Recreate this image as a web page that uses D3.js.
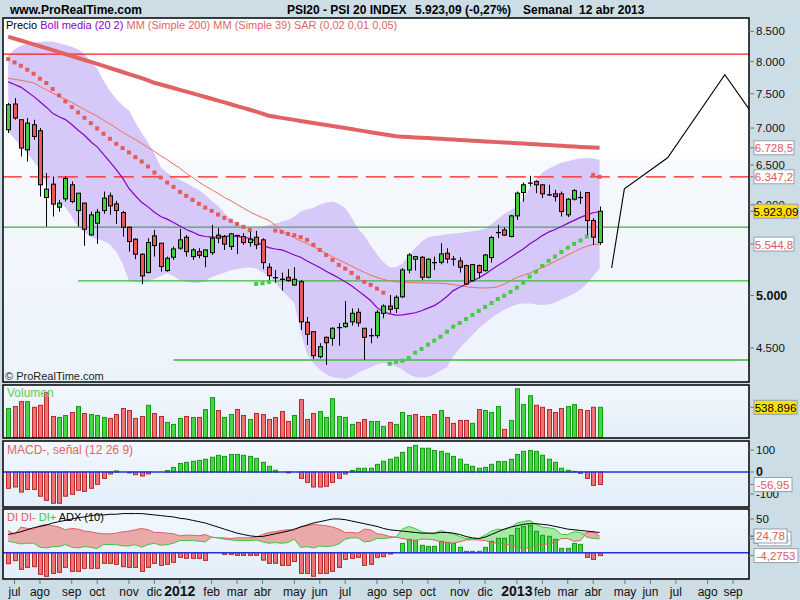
<!DOCTYPE html>
<html><head><meta charset="utf-8">
<script src="https://cdn.jsdelivr.net/npm/d3@7/dist/d3.min.js"></script>
<style>
html,body{margin:0;padding:0;background:#cddde6;}
svg{display:block;font-family:"Liberation Sans",Arial,Helvetica,sans-serif;}
</style></head><body>
<svg id="chart" width="800" height="600"></svg>
<script>
// ================= DATA (weekly bars, PSI20, 27 jun 2011 .. 8 abr 2013) =================
const firstWeek = "2011-06-27";
const monthNames = ["ene","feb","mar","abr","may","jun","jul","ago","sep","oct","nov","dic"];
const priceTicks = [8500, 8000, 7500, 7000, 6500, 6000, 5000, 4500];
const macdTicks = [100, 0, -100];
const diTicks = [50];

const opens = [6976,7346,7118,6701,7047,6962,6088,6254,5971,6072,
 6246,5931,6020,5648,5782,5931,6109,6011,5907,5736,
 5600,5433,5236,5637,5555,5257,5400,5499,5622,5407,
 5461,5407,5450,5645,5629,5517,5641,5629,5562,5622,
 5592,5293,5183,5166,5187,5107,5141,4739,4650,4422,
 4598,4589,4688,4697,4743,4835,4682,4613,4613,4825,
 4896,4873,4987,5264,5379,5400,5187,5342,5346,5444,
 5379,5360,5310,5152,5310,5257,5396,5674,5705,5629,
 5868,6150,6267,6288,6246,6121,6134,6134,5880,6068,
 6088,6150,5813,5562];
const highs = [7361,7435,7118,7142,7118,7000,6394,6351,6060,6351,
 6288,6142,6027,5919,5951,6162,6150,6048,5927,5743,
 5611,5444,5611,5705,5555,5407,5517,5717,5648,5499,
 5499,5488,5763,5724,5648,5668,5648,5668,5686,5694,
 5611,5335,5264,5236,5272,5293,5159,4790,4650,4543,
 4604,4692,4730,4946,4873,4873,4682,4682,4857,4913,
 5006,5003,5282,5444,5414,5414,5389,5407,5555,5499,
 5414,5400,5321,5321,5321,5436,5637,5763,5732,5880,
 6162,6275,6360,6301,6254,6246,6183,6162,6081,6192,
 6162,6158,5841,5979];
const lows = [6930,7118,6611,6545,6837,6100,5743,5860,5919,6039,
 6020,5743,5525,5637,5547,5892,5880,5774,5629,5461,
 5379,5115,5229,5407,5246,5246,5371,5480,5407,5371,
 5389,5293,5425,5555,5480,5480,5436,5536,5517,5488,
 5272,5159,5131,5050,5141,5097,4666,4527,4402,4408,
 4349,4521,4521,4688,4707,4697,4393,4543,4589,4777,
 4825,4828,4977,5229,5257,5159,5176,5264,5324,5335,
 5310,5236,5107,5141,5176,5246,5342,5611,5637,5622,
 5821,6039,6225,6142,6081,6109,6039,5860,5853,6051,
 6011,5648,5536,5536];
const closes = [7336,7142,6724,7070,6883,6246,6192,6008,6020,6326,
 6039,6142,5713,5880,5912,6081,5987,5931,5736,5573,
 5433,5201,5562,5528,5300,5389,5491,5592,5461,5480,
 5421,5480,5611,5611,5544,5660,5641,5562,5600,5536,
 5342,5204,5183,5166,5152,5166,4743,4626,4431,4512,
 4548,4682,4688,4730,4825,4733,4598,4613,4835,4896,
 4864,4983,5264,5425,5407,5187,5379,5342,5436,5382,
 5379,5293,5118,5321,5236,5425,5618,5674,5645,5868,
 6142,6246,6267,6246,6134,6121,6100,5919,6068,6174,
 6088,5813,5622,5923.09];

// volume in thousands, and up(1)/down(0) colouring
const volume = [517,551,638,638,539,574,795,378,360,395,
 447,551,430,412,395,360,343,412,517,482,
 343,378,574,430,378,273,238,343,378,360,
 360,499,708,482,360,412,499,395,325,430,
 412,325,360,464,290,395,673,325,430,464,
 360,690,378,360,238,273,325,290,290,204,
 273,238,447,395,412,378,378,412,482,360,
 256,308,308,256,499,482,447,551,151,308,
 864,586,742,574,539,499,447,517,551,586,
 499,482,539,538.896];
const volUp = [1,0,0,1,0,0,0,0,1,1,
 0,1,0,1,1,1,0,0,0,0,
 0,0,1,0,0,1,1,1,0,1,
 0,1,1,0,1,1,0,0,1,0,
 0,0,0,0,0,1,0,0,0,1,
 1,1,1,1,1,0,0,1,1,1,
 0,1,1,1,0,0,1,0,1,0,
 0,0,0,1,0,1,1,1,0,1,
 1,1,1,0,0,0,0,0,1,1,
 0,0,0,1];

const ma200 = [8410,8378,8346,8314,8282,8250,8218,8186,8154,8122,8090,8058,8026,7994,7962,7930,7898,7866,7834,7802,7770,7738,7705,7667,
 7640,7613,7586,7559,7532,7505,7478,7451,7424,7397,7370,7343,7316,7289,7262,7235,7205,7175,
 7160,7145,7130,7116,7101,7087,7072,7058,7043,7029,7014,7000,6986,6971,6957,6942,6928,6914,6900,6885,
 6880,6875,6870,6865,6860,6855,6850,6845,6840,6835,6830,6825,6820,6815,6810,6805,6800,6795,6790,6785,6780,6775,6770,6765,6760,6755,6750,6745,6740,6736,6732,6728.5];
const ma39 = [7735,7720,7705,7685,7665,7610,7560,7510,7460,7420,7370,7320,7265,7215,7170,
 7110,7060,7000,6940,6890,6840,6790,6730,6680,6620,6570,6510,6460,6390,6340,6280,6230,
 6185,6140,6090,6050,6005,5960,5915,5880,5845,5815,5760,5695,5650,5615,5580,5550,5515,5480,5440,5405,
 5370,5340,5305,5270,5240,5210,5185,5165,5150,5140,5135,5132,5130,5128,5127,5126,5125,5120,5110,5100,
 5090,5082,5078,5077,5080,5090,5115,5150,5185,5210,5230,5260,5290,5320,5355,5390,5425,5460,5495,5520,5540,5544.8];
const bollMid = [7680,7640,7600,7530,7460,7380,7300,7210,7160,7120,7050,6970,6900,6810,6740,6640,6540,6440,6330,6200,6110,6030,5975,
 5910,5860,5830,5790,5750,5710,5680,5645,5630,5622,5625,5632,5637,5630,5620,5610,5575,5530,5505,5490,5480,5455,5425,
 5400,5360,5325,5290,5250,5215,5180,5140,5100,5050,5000,4950,4880,4840,4820,4808,4810,4820,4830,4850,4875,4900,4940,4990,
 5050,5085,5115,5150,5180,5220,5265,5310,5355,5400,5445,5490,5545,5590,5640,5680,5710,5745,5780,5815,5850,5880,5905,5920];
const bollUp = [8100,8200,8260,8290,8310,8320,8330,8330,8300,8270,8240,8200,8120,8000,7880,7700,7540,7420,7330,7250,7080,6930,6800,
 6650,6470,6400,6345,6310,6270,6220,6180,6120,6050,5990,5900,5830,5770,5745,5728,5730,5745,5760,5780,5800,5820,5860,
 5919,5945,5965,6000,6027,6039,6010,5960,5850,5720,5640,5530,5430,5350,5290,5295,5330,5420,5500,5570,5620,5635,5645,5655,
 5664,5670,5680,5690,5700,5720,5770,5830,5890,5935,5975,6080,6200,6310,6400,6455,6490,6530,6550,6570,6585,6590,6585,6567];
const bollLow = [6950,6850,6750,6650,6550,6440,6270,6090,6020,5970,5860,5740,5680,5620,5600,5580,5540,5460,5330,5150,5140,5130,5150,
 5170,5200,5230,5200,5160,5140,5130,5125,5150,5190,5210,5235,5260,5275,5285,5293,5280,5240,5200,5130,5057,4990,4925,
 4650,4450,4365,4310,4270,4245,4235,4231,4245,4280,4305,4330,4355,4366,4355,4335,4310,4270,4245,4240,4245,4270,4300,4330,
 4423,4500,4560,4620,4680,4730,4780,4820,4860,4890,4910,4920,4920,4910,4905,4910,4930,4960,4990,5020,5060,5120,5200,5280];
const sar = [8041,7987,7934,7870,7807,7729,7663,7571,7474,7385,7302,7223,7146,7070,6994,6920,6851,6782,6724,6665,6603,6545,6480,
 6402,6337,6274,6220,6158,6109,6060,6012,5967,5927,5883,5845,5810,5774,5740,5705,5118,5125,5139,5697,5682,5659,5645,
 5622,5592,5536,5480,5425,5371,5317,5278,5233,5183,5139,5108,5070,5029,4360,4377,4386,4410,4458,4491,4530,4567,4603,4650,
 4697,4732,4770,4809,4848,4887,4926,4966,4999,5037,5080,5131,5194,5246,5307,5361,5407,5458,5505,5547,5584,5629,6372,6347.2];

const macdHist = [-74,-68,-91,-79,-79,-110,-129,-142,-142,-110,-101,-83,-88,-74,-56,-29,-9,5,
 0,-4,-12,-18,-9,0,0,7,21,39,44,49,53,58,67,76,71,80,80,76,71,62,44,26,8,0,
 -4,0,-29,-47,-68,-68,-65,-47,-29,-9,7,17,17,17,35,49,58,67,
 89,112,121,108,108,98,94,85,71,58,35,26,17,21,35,48,48,58,80,94,98,94,76,58,44,17,8,3,-6,-29,-61,-56.95];

const adx = [27,29,31,34,37,39,41,44,46,48,50,52,53,55,56,56,57,57,58,58,58,58,57,56,55,54,53,51,50,48,46,44,41,38,35,32,29,27,25,24,
 24,26,28,30,32,35,38,41,44,46,48,50,50,49,47,45,43,41,39,36,34,33,32,31,30,29,29,29,30,30,29,27,24,22,21,23,27,31,35,38,
 40,42,43,43,42,41,39,37,35,34,33,32,31,30];
const diMinus = [33,27,38,36,35,40,42,40,38,34,36,35,32,31,29,28,28,29,31,32,34,36,34,
 30,30,29,28,25,26,26,25,27,23,22,22,21,22,22,22,23,27,30,31,33,34,33,
 39,40,42,41,40,38,35,30,30,29,35,34,28,27,24,23,21,19,18,20,20,19,16,15,
 14,16,19,19,19,18,15,14,13,11,8,7,7,10,12,13,15,21,21,17,18,30,31,24.78];
const diPlus = [17,15,13,14,14,8,7,9,9,12,8,7,9,8,6,12,12,12,10,10,12,8,12,
 14,11,12,14,18,18,18,17,16,23,22,20,19,18,18,18,19,16,14,15,14,15,20,
 8,9,7,10,9,10,13,20,22,22,16,17,21,21,22,23,35,39,36,31,29,28,33,30,
 28,24,21,21,21,26,32,35,34,37,44,46,48,42,38,37,35,27,27,31,30,23,21,20.54];
const diHist = [-16.3,-11.9,-24.7,-21.8,-20.8,-32.1,-35.1,-30.7,-29.2,-21.8,-27.7,-27.7,-23.2,-23.2,-23.2,-15.8,-15.8,-17.3,-20.8,-21.8,
 -21.8,-27.7,-21.8,-15.8,-18.8,-17.3,-14.3,-6.9,-8.4,-8.4,-8.4,-11.4,0,0,-2.5,-2.5,-4,-4,-4,-4,
 -11,-15.8,-15.8,-18.8,-18.8,-13,-30.7,-30.7,-35,-30.7,-30.7,-27.7,-21.8,-9.9,-8.4,-6.9,-18.8,-17.3,-6.9,-5.9,
 -2,0,13.8,19.8,18.3,10.9,9.4,9.4,16.8,15.3,13.8,7.9,2,2,2,7.9,16.8,21.3,21.3,25.7,
 36.1,39,40.6,31.7,25.7,24.3,19.8,6.4,6.4,13.8,12.4,-6.9,-9.9,-4.2753];

// user drawn lines
const hLines = [
  {value: 8120, from: -1, color: "#ff1a1a", dash: null},
  {value: 6347, from: -1, color: "#ff1a1a", dash: "20,8"},
  {value: 5736, from: -1, color: "#4aa84a", dash: null},
  {value: 5149, from: 11, color: "#3cb83c", dash: null},
  {value: 4393, from: 26, color: "#3cb83c", dash: null}
];
const projWeek = [94.9, 96.9, 103.7, 112.7, 116.6];
const projValue = [5285, 6196, 6594, 7792, 7260];

// ================= RENDER =================
const svg = d3.select("#chart");
const defs = svg.append("defs");
function grad(id, stops){
  const g = defs.append("linearGradient").attr("id", id).attr("x1",0).attr("y1",0).attr("x2",0).attr("y2",1);
  stops.forEach(s => g.append("stop").attr("offset", s[0]).attr("stop-color", s[1]));
}
grad("gMain", [["0%","#ffffff"],["38%","#ffffff"],["40%","#f6f9fd"],["100%","#ecf3fb"]]);
grad("gSub", [["0%","#f2f8fd"],["100%","#e3eef9"]]);

const L = 3, R = 749;
const P = {main:[18,382], vol:[385,438], macd:[441,507], di:[509,579]};
const n = closes.length;
const x = d3.scaleLinear().domain([-0.81, 116.5]).range([L, R]);
const weeks = d3.timeMonday.range(new Date(2011,5,27), new Date(2013,9,1));

const yP = d3.scaleLog().domain([4203, 8732]).range([P.main[1], P.main[0]]);
const yV = d3.scaleLinear().domain([0, 930]).range([P.vol[1], P.vol[0]]);
const yM = d3.scaleLinear().domain([-159, 141]).range([P.macd[1], P.macd[0]]);
const yD = d3.scaleLinear().domain([-39, 64.8]).range([P.di[1], P.di[0]]);

const fmt = (v, d) => d3.format(",." + d + "f")(v).replace(/\u2212/g,"-")
  .replace(/,/g,"#").replace(/\./g,",").replace(/#/g,".");

svg.append("rect").attr("width",800).attr("height",600).attr("fill","#cddde6");

// panel backgrounds + clips
Object.entries(P).forEach(([k,[t,b]]) => {
  svg.append("rect").attr("x",L).attr("y",t).attr("width",R-L).attr("height",b-t)
    .attr("fill", k==="main" ? "url(#gMain)" : "url(#gSub)");
  defs.append("clipPath").attr("id","clip-"+k).append("rect")
    .attr("x",L).attr("y",t).attr("width",R-L).attr("height",b-t);
});

const GREEN_F = "#45d645", GREEN_S = "#169a16", RED_F = "#f07272", RED_S = "#b42a2a";

// ---------- main panel ----------
const gm = svg.append("g").attr("clip-path","url(#clip-main)");
const idx = d3.range(n);
gm.append("path").datum(idx)
  .attr("d", d3.area().x(i=>x(i)).y0(i=>yP(bollLow[i])).y1(i=>yP(bollUp[i])))
  .attr("fill","#d7c8fa");

hLines.forEach(h => {
  gm.append("line").attr("x1", x(h.from)).attr("x2", R).attr("y1", yP(h.value)).attr("y2", yP(h.value))
    .attr("stroke", h.color).attr("stroke-width", 1.3).attr("stroke-dasharray", h.dash);
});

const line = arr => d3.line().x(i=>x(i)).y(i=>yP(arr[i]));
gm.append("path").datum(idx).attr("d", line(ma200)).attr("fill","none").attr("stroke","#e06262").attr("stroke-width",4);
gm.append("path").datum(idx).attr("d", line(ma39)).attr("fill","none").attr("stroke","#e8705e").attr("stroke-width",1);
gm.append("path").datum(idx).attr("d", line(bollMid)).attr("fill","none").attr("stroke","#8600c8").attr("stroke-width",1.2);

gm.selectAll("rect.sar").data(idx).join("rect").attr("class","sar")
  .attr("x", i=>x(i)-2).attr("y", i=>yP(sar[i])-2).attr("width",4).attr("height",4)
  .attr("fill", i => sar[i] > closes[i] ? "#e65a5a" : "#44cc44");

// candles
const cg = gm.append("g");
idx.forEach(i => {
  const xc = Math.round(x(i)) + 0.5;
  cg.append("line").attr("x1",xc).attr("x2",xc).attr("y1",yP(highs[i])).attr("y2",yP(lows[i]))
    .attr("stroke","#000").attr("stroke-width",1);
  const o = opens[i], c = closes[i];
  if (Math.abs(o-c) < 1) {
    cg.append("line").attr("x1",xc-2.5).attr("x2",xc+2.5).attr("y1",yP(c)).attr("y2",yP(c))
      .attr("stroke","#000").attr("stroke-width",1.3);
  } else {
    const top = yP(Math.max(o,c)), bot = yP(Math.min(o,c));
    cg.append("rect").attr("x",xc-2).attr("y",top).attr("width",4).attr("height",Math.max(1,bot-top))
      .attr("fill", c>o ? "#3fd23f" : "#e85a5a").attr("stroke","#000").attr("stroke-width",1);
  }
});

// projection line
gm.append("path").datum(d3.range(projWeek.length))
  .attr("d", d3.line().x(j=>x(projWeek[j])).y(j=>yP(projValue[j])))
  .attr("fill","none").attr("stroke","#000").attr("stroke-width",1.1);

// legend
const lg = svg.append("text").attr("x",6).attr("y",29).attr("font-size",11);
lg.append("tspan").attr("fill","#000").text("Precio ");
lg.append("tspan").attr("fill","#8a00c8").text("Boll media (20 2) ");
lg.append("tspan").attr("fill","#e06666").text("MM (Simple 200) MM (Simple 39) SAR (0,02 0,01 0,05)");
svg.append("text").attr("x",5).attr("y",380).attr("font-size",11).attr("fill","#222").text("\u00a9 ProRealTime.com");

// ---------- volume ----------
const gv = svg.append("g").attr("clip-path","url(#clip-vol)");
gv.selectAll("rect").data(idx).join("rect")
  .attr("x", i=>Math.round(x(i))-1.5).attr("width",4)
  .attr("y", i=>yV(volume[i])).attr("height", i=>yV(0)-yV(volume[i]))
  .attr("fill", i=>volUp[i]?GREEN_F:RED_F).attr("stroke", i=>volUp[i]?GREEN_S:RED_S).attr("stroke-width",1);
svg.append("text").attr("x",7).attr("y",397).attr("font-size",12).attr("fill","#5ccc5c").text("Volumen");

// ---------- MACD ----------
const gmc = svg.append("g").attr("clip-path","url(#clip-macd)");
gmc.selectAll("rect").data(idx).join("rect")
  .attr("x", i=>Math.round(x(i))-1.5).attr("width",4)
  .attr("y", i=>Math.min(yM(macdHist[i]), yM(0))).attr("height", i=>Math.abs(yM(macdHist[i])-yM(0)))
  .attr("fill", i=>macdHist[i]>=0?GREEN_F:RED_F).attr("stroke", i=>macdHist[i]>=0?GREEN_S:RED_S).attr("stroke-width",1);
gmc.append("line").attr("x1",L).attr("x2",R).attr("y1",yM(0)).attr("y2",yM(0)).attr("stroke","#2233dd").attr("stroke-width",1.5);
svg.append("text").attr("x",7).attr("y",454).attr("font-size",12).attr("fill","#e06666").text("MACD-, se\u00f1al (12 26 9)");

// ---------- DI / ADX ----------
const gd = svg.append("g").attr("clip-path","url(#clip-di)");
gd.append("path").datum(idx)
  .attr("d", d3.area().x(i=>x(i)).y0(i=>yD(diPlus[i])).y1(i=>yD(Math.max(diPlus[i],diMinus[i]))))
  .attr("fill","#e9a9a9");
gd.append("path").datum(idx)
  .attr("d", d3.area().x(i=>x(i)).y0(i=>yD(diMinus[i])).y1(i=>yD(Math.max(diPlus[i],diMinus[i]))))
  .attr("fill","#a6e8a6");
gd.selectAll("rect").data(idx).join("rect")
  .attr("x", i=>Math.round(x(i))-1.5).attr("width",4)
  .attr("y", i=>Math.min(yD(diHist[i]), yD(0))).attr("height", i=>Math.abs(yD(diHist[i])-yD(0)))
  .attr("fill", i=>diHist[i]>=0?GREEN_F:RED_F).attr("stroke", i=>diHist[i]>=0?GREEN_S:RED_S).attr("stroke-width",1);
const dl = arr => d3.line().x(i=>x(i)).y(i=>yD(arr[i]));
gd.append("path").datum(idx).attr("d", dl(diMinus)).attr("fill","none").attr("stroke","#e06060").attr("stroke-width",1);
gd.append("path").datum(idx).attr("d", dl(diPlus)).attr("fill","none").attr("stroke","#3cc83c").attr("stroke-width",1);
gd.append("path").datum(idx).attr("d", dl(adx)).attr("fill","none").attr("stroke","#000").attr("stroke-width",1);
gd.append("line").attr("x1",L).attr("x2",R).attr("y1",yD(0)).attr("y2",yD(0)).attr("stroke","#2233dd").attr("stroke-width",1.5);
const dlg = svg.append("text").attr("x",7).attr("y",521).attr("font-size",11);
dlg.append("tspan").attr("fill","#e06060").text("DI DI- ");
dlg.append("tspan").attr("fill","#3cc83c").text("DI+ ");
dlg.append("tspan").attr("fill","#000").text("ADX (10)");

// borders
Object.values(P).forEach(([t,b]) => {
  svg.append("rect").attr("x",L).attr("y",t).attr("width",R-L).attr("height",b-t)
    .attr("fill","none").attr("stroke","#000").attr("stroke-width",1.5);
});

// ---------- right axes ----------
const ax = svg.append("g");
function tick(y){ ax.append("line").attr("x1",R).attr("x2",R+5).attr("y1",y).attr("y2",y).attr("stroke","#6a7a84"); }
priceTicks.forEach(v => {
  const y = yP(v); tick(y);
  ax.append("text").attr("x",756).attr("y",y+4).attr("font-size", v===5000?12.5:11.5)
    .attr("font-weight", v===5000?"bold":"normal").attr("fill","#111").text(fmt(v,0));
});
macdTicks.forEach(v => {
  const y = yM(v); tick(y);
  ax.append("text").attr("x",756).attr("y",y+4).attr("font-size", v===0?12.5:11.5)
    .attr("font-weight", v===0?"bold":"normal").attr("fill","#111").text(fmt(v,0));
});
diTicks.forEach(v => {
  const y = yD(v); tick(y);
  ax.append("text").attr("x",756).attr("y",y+4).attr("font-size",11.5).attr("fill","#111").text(fmt(v,0));
});
function box(y, txt, opt){
  const w = opt.w, x0 = opt.x || 754;
  tick(y);
  ax.append("rect").attr("x",x0).attr("y",y-7).attr("width",w).attr("height",14)
    .attr("fill",opt.fill||"#ffffff").attr("stroke","#8fa2ad").attr("stroke-width",1);
  if (txt !== null) ax.append("text").attr("x",x0+w/2).attr("y",y+4.5).attr("text-anchor","middle").attr("font-size",11.5)
    .attr("fill",opt.color||"#e05a5a").text(txt);
}
const last = n-1;
box(yP(ma200[last]), fmt(ma200[last],1), {w:40});
box(yP(sar[last]), fmt(sar[last],1), {w:40});
box(yP(closes[last]), fmt(closes[last],2), {w:44, fill:"#ffe000", color:"#000"});
box(yP(ma39[last]), fmt(ma39[last],1), {w:40});
box(yV(volume[last]), fmt(volume[last]*1000,0), {w:43, fill:"#ffe000", color:"#000"});
box(yM(macdHist[last]), fmt(macdHist[last],2), {w:38});
box(yD(adx[last])+4, null, {w:24});
box(yD(diPlus[last]), fmt(diPlus[last],2), {w:33, x:758, color:"#3cc83c"});
box(yD(diMinus[last]), fmt(diMinus[last],2), {w:33});
box(yD(diHist[last]), fmt(diHist[last],4), {w:44});

// ---------- time axis ----------
const xa = svg.append("g");
for (let k = 1; k < weeks.length; k++) {
  const m = weeks[k].getMonth();
  if (m !== weeks[k-1].getMonth()) {
    const xx = x(k);
    if (xx > R) break;
    xa.append("line").attr("x1",xx).attr("x2",xx).attr("y1",P.di[1]+1).attr("y2",P.di[1]+5).attr("stroke","#6a7a84");
    const isYear = m === 0;
    xa.append("text").attr("x",xx).attr("y",596).attr("text-anchor","middle")
      .attr("font-size", isYear?14:12).attr("font-weight", isYear?"bold":"normal").attr("fill","#111")
      .text(isYear ? weeks[k].getFullYear() : monthNames[m]);
  }
}

// ---------- header ----------
const hd = svg.append("g").attr("font-weight","bold").attr("font-size",12).attr("fill","#000");
hd.append("text").attr("x",10).attr("y",14).text("www.ProRealTime.com");
hd.append("text").attr("x",287).attr("y",14).text("PSI20 - PSI 20 INDEX");
hd.append("text").attr("x",415).attr("y",14).text("5.923,09 (-0,27%)");
hd.append("text").attr("x",523).attr("y",14).text("Semanal  12 abr 2013").attr("xml:space","preserve");
</script>
</body></html>
